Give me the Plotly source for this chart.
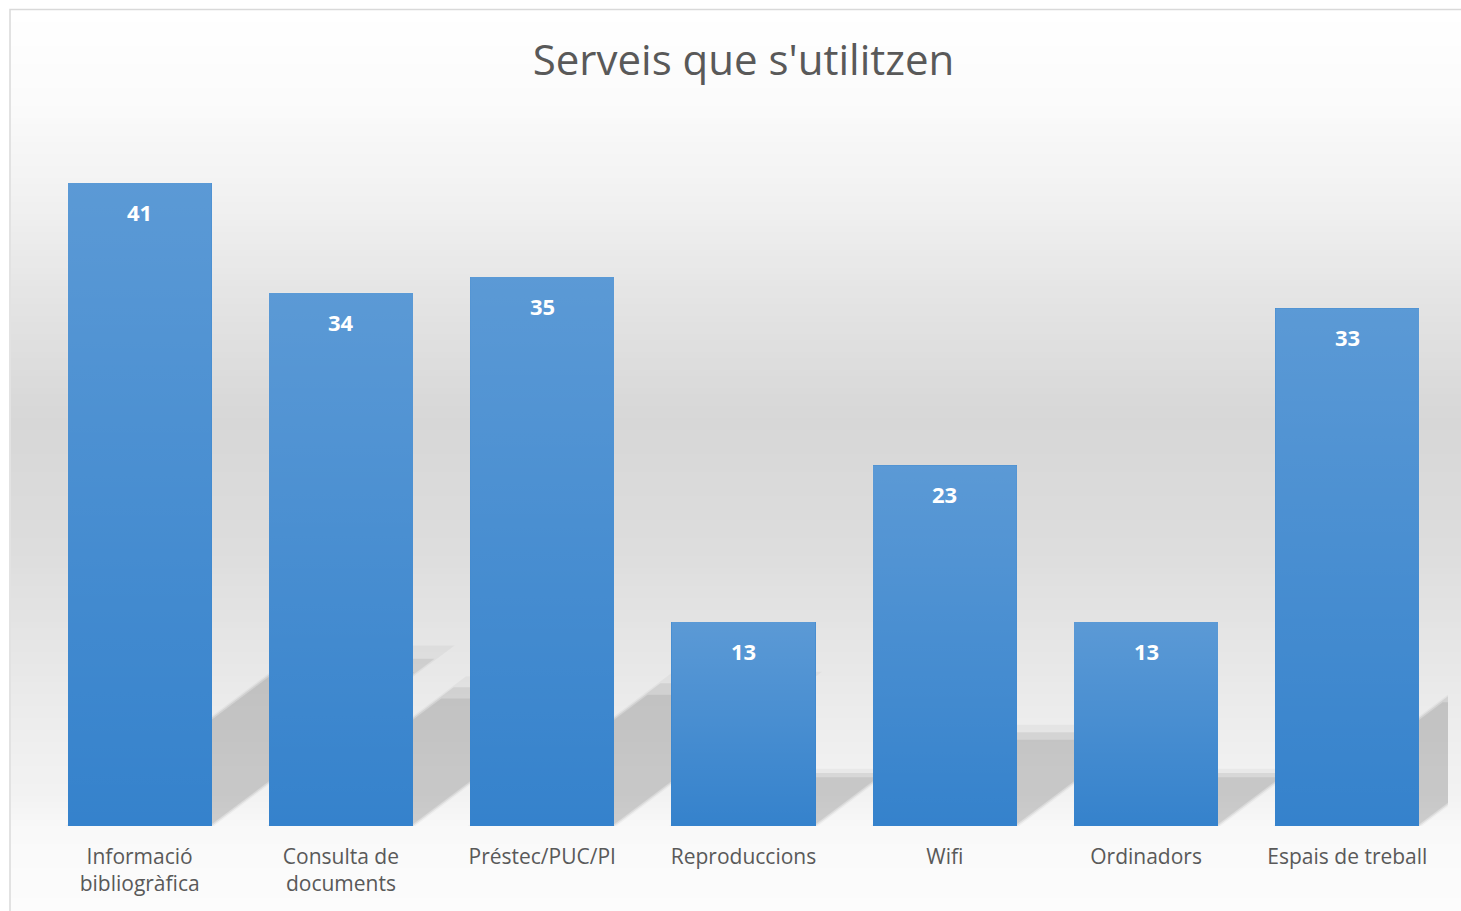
import plotly.graph_objects as go

# ---- data ----
categories = ["Informació<br>bibliogràfica", "Consulta de<br>documents", "Préstec/PUC/PI",
              "Reproduccions", "Wifi", "Ordinadors", "Espais de treball"]
values = [41, 34, 35, 13, 23, 13, 33]
title_text = "Serveis que s'utilitzen"

# ---- layout constants ----
W, H = 1461, 911
ML, MR, MT, MB = 39, 13, 120, 85
PW, PH = W - ML - MR, H - MT - MB
BAR_W = 0.716
Y_MAX = 45
SH_S = 0.26    # shadow height factor (in value units per value)
SH_K = 0.027   # shadow horizontal shift (x units per value)

def px_to_paper_x(px):
    return (px - ML) / PW

def px_to_paper_y(py):
    return (H - MB - py) / PH

fig = go.Figure()
idx = list(range(len(categories)))

# ---- background gradient (paper shapes) ----
stops = [(9, 255), (100, 251), (200, 241), (300, 228), (420, 215), (550, 221),
         (700, 235), (800, 243), (830, 249), (911, 252)]

def gray_at(py):
    for (y0, g0), (y1, g1) in zip(stops[:-1], stops[1:]):
        if y0 <= py <= y1:
            t = (py - y0) / (y1 - y0)
            return g0 + t * (g1 - g0)
    return stops[-1][1]

shapes = []
step = 6
py = 10
while py < H:
    g = int(round(gray_at(py + step / 2)))
    shapes.append(dict(type="rect", xref="paper", yref="paper",
                       x0=px_to_paper_x(11), x1=px_to_paper_x(1475),
                       y0=px_to_paper_y(min(py + step + 0.5, H + 5)), y1=px_to_paper_y(py),
                       fillcolor=f"rgb({g},{g},{g})", line=dict(width=0), layer="below"))
    py += step
shapes.append(dict(type="rect", xref="paper", yref="paper",
                   x0=px_to_paper_x(10), x1=px_to_paper_x(1475),
                   y0=px_to_paper_y(925), y1=px_to_paper_y(9.5),
                   fillcolor="rgba(0,0,0,0)", line=dict(width=1.5, color="#d9d9d9"), layer="below"))

# ---- shadows (soft, layered, below the bars) ----
x_lim = len(categories) - 0.5
for i, v in zip(idx, values):
    xl, xr = i - BAR_W / 2, i + BAR_W / 2
    for grow, alpha in [(1.08, 0.035), (1.0, 0.07), (0.92, 0.075)]:
        h = SH_S * v * grow
        d = SH_K * v * grow
        e = (grow - 1.0) * 0.15
        pts = [(xl - e, 0), (xr + e, 0), (xr + d + e, h), (xl + d - e, h)]
        path = "M " + " L ".join(f"{x:.4f},{y:.4f}" for x, y in pts) + " Z"
        shapes.append(dict(type="path", xref="x", yref="y", path=path,
                           fillcolor=f"rgba(0,0,0,{alpha})", line=dict(width=0),
                           layer="below"))

# ---- bars ----
fig.add_trace(go.Bar(
    x=idx, y=values, width=BAR_W,
    marker=dict(color="#3582cc", line=dict(width=0)),
    hoverinfo="skip", showlegend=False))

# gradient sheen over each bar
for i, v in zip(idx, values):
    xl, xr = i - BAR_W / 2, i + BAR_W / 2
    fig.add_trace(go.Scatter(
        x=[xl, xr, xr, xl, xl], y=[0, 0, v, v, 0],
        mode="lines", fill="toself", line=dict(width=0),
        fillgradient=dict(type="vertical",
                          colorscale=[[0, "rgba(255,255,255,0)"], [1, "rgba(255,255,255,0.19)"]]),
        hoverinfo="skip", showlegend=False))

# ---- value labels ----
for i, v in zip(idx, values):
    fig.add_annotation(x=i, y=v, text=f"<b>{v}</b>", showarrow=False,
                       yanchor="middle", yshift=-29,
                       font=dict(family="Open Sans", size=22, color="white"))

fig.update_layout(
    width=W, height=H, autosize=False,
    margin=dict(l=ML, r=MR, t=MT, b=MB),
    paper_bgcolor="white", plot_bgcolor="rgba(0,0,0,0)",
    shapes=shapes,
    title=dict(text=title_text, xref="paper", x=0.5, xanchor="center",
               yref="container", y=1 - 60 / H, yanchor="middle",
               font=dict(family="Open Sans", size=42, color="#595959")),
    xaxis=dict(range=[-0.5, x_lim], tickvals=idx, ticktext=categories,
               showgrid=False, zeroline=False, showline=False, ticks="",
               ticklabelstandoff=16,
               tickfont=dict(family="Open Sans", size=21, color="#595959")),
    yaxis=dict(range=[0, Y_MAX], visible=False, showgrid=False, zeroline=False),
    bargap=0,
)

fig.write_html("out.html", config={"displayModeBar": False},
               post_script="document.body.style.margin='0';document.body.style.overflow='hidden';")
